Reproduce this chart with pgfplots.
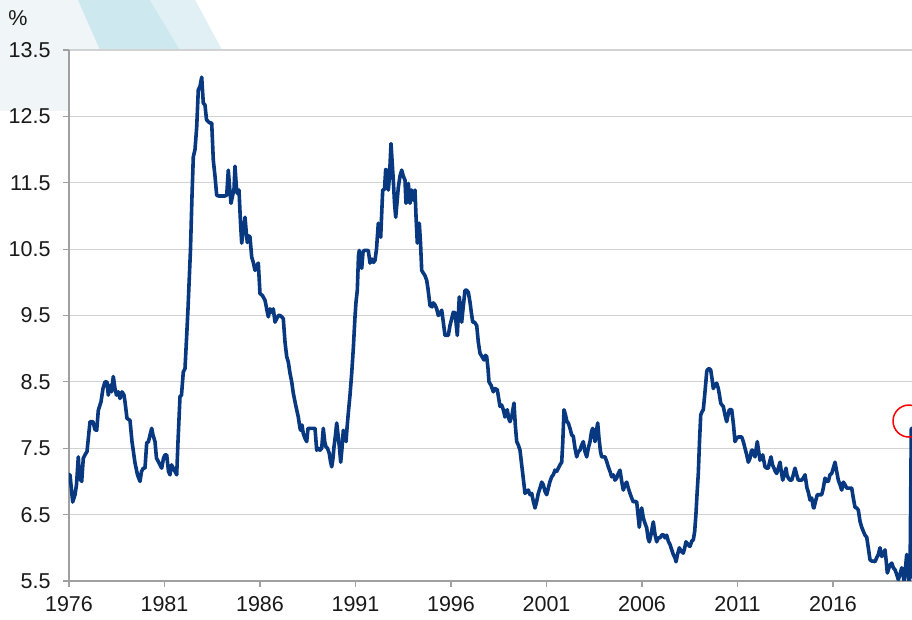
\documentclass[border=0pt]{standalone}
\usepackage{pgfplots}
\pgfplotsset{compat=1.18}
\usepackage{pgfplotstable}
\usepackage{fontspec}
\setmainfont{Liberation Sans}
\definecolor{navy}{RGB}{8,56,128}
\definecolor{gridgray}{RGB}{210,210,210}
\definecolor{axgray}{RGB}{160,160,160}
\definecolor{wm1}{RGB}{240,245,247}
\definecolor{wm2}{RGB}{205,232,238}
\definecolor{wm3}{RGB}{225,240,244}
% px = horizontal position (1976 at 69, 19.1 px per year), v = unemployment rate in %
\pgfplotstableread{
px v
69 7.1
70 7.1
72.7 6.69
75 6.8
76.5 6.95
78.3 7.37
79.5 7.05
81.7 7.0
83.3 7.35
85 7.4
87 7.45
90 7.9
93 7.9
95 7.78
96.7 7.77
98.3 8.07
101 8.2
103 8.4
105 8.5
107 8.5
108.3 8.3
110 8.45
111.5 8.35
113.3 8.58
115 8.4
116.5 8.3
118.3 8.35
120 8.25
122 8.35
124 8.3
125 8.2
127 7.95
130 7.92
132 7.6
135 7.28
137.5 7.1
140 7.0
141.5 7.15
143.3 7.2
145 7.2
146.7 7.58
148.5 7.6
150 7.7
151.7 7.8
153 7.7
155 7.6
156.5 7.35
158.3 7.3
160 7.25
161.7 7.2
163.5 7.35
165 7.4
166.7 7.4
168.5 7.15
170 7.1
171.5 7.25
173.3 7.2
175 7.15
176.7 7.1
178 7.6
180 8.28
181.5 8.3
183.3 8.65
185 8.7
186.7 9.2
188 9.6
190.5 10.5
192 11.3
193.3 11.89
195 12.0
196.7 12.34
198.3 12.9
200 12.95
201.7 13.09
203.3 12.7
205 12.67
206.5 12.45
208.3 12.42
210 12.4
211.7 12.4
213.3 11.84
215 11.6
216.7 11.31
219 11.3
222 11.3
224.5 11.3
226.7 11.31
228.3 11.69
229.5 11.45
231 11.19
232.5 11.3
234 11.4
235 11.75
236.3 11.45
237.3 11.34
239 11.39
240.5 10.9
241.7 10.59
243.3 10.8
245 10.98
246.3 10.75
247.3 10.6
249 10.7
250 10.68
251.7 10.38
253.3 10.3
255 10.18
256.7 10.25
258.3 10.29
259 10.1
260 9.83
262.5 9.8
265 9.73
266.7 9.6
268.3 9.48
270 9.6
271.7 9.55
273.3 9.6
275 9.4
276.7 9.45
278.3 9.5
280 9.5
281.7 9.48
283.3 9.45
285 9.1
286.7 8.88
288.3 8.8
290 8.63
291.7 8.5
293.3 8.33
295 8.2
296.7 8.08
298.3 7.97
300 7.8
300.7 7.77
302 7.85
303.3 7.72
305 7.65
306.7 7.6
308 7.8
310 7.8
312 7.8
313.5 7.8
315 7.8
316.7 7.47
318.3 7.5
320 7.47
321.7 7.5
323.3 7.8
324.7 7.6
326 7.52
327.5 7.5
329.3 7.42
330.5 7.3
331.7 7.22
333 7.35
334 7.52
335.5 7.7
336.7 7.88
338.3 7.67
339.5 7.5
340.7 7.29
342 7.5
343.3 7.77
344.5 7.7
346 7.6
347 7.8
348.3 8.03
350 8.3
351.7 8.63
353.3 9.0
355 9.48
356 9.7
357.3 9.88
358.5 10.4
359.3 10.48
360.5 10.3
361.7 10.21
363 10.45
364 10.48
366 10.48
368.3 10.48
370 10.29
372 10.35
373.5 10.3
375 10.33
376.5 10.5
378.3 10.89
379.5 10.8
380.7 10.68
382.7 11.39
384.5 11.4
385.7 11.7
386.7 11.69
387.5 11.5
388.3 11.39
389.5 11.6
391 12.09
392.2 11.8
393.3 11.54
394.5 11.2
395.7 10.98
397 11.2
398.3 11.43
400 11.6
401.7 11.69
403.3 11.6
405 11.54
406 11.19
407 11.35
408.3 11.49
410 11.19
411.7 11.39
413.3 11.24
415 11.39
416 11.0
417.3 10.59
418.3 10.7
419.3 10.89
420.5 10.6
421.7 10.18
423.3 10.14
425 10.1
426.7 10.03
428 9.9
430 9.65
432 9.63
433.3 9.69
435 9.66
436.7 9.6
438.3 9.5
440 9.53
441.7 9.58
443.3 9.4
445 9.2
446.7 9.2
448.3 9.2
450 9.35
451.7 9.45
453.3 9.55
455 9.54
456 9.4
457.3 9.2
458.3 9.5
459.3 9.78
460.5 9.6
461.7 9.4
463 9.6
465 9.88
466.7 9.88
468.3 9.85
470 9.7
471.3 9.55
472.7 9.4
474.5 9.4
476.7 9.35
478.3 9.1
480 8.93
482 8.88
484 8.83
485.5 8.9
486.7 8.88
488 8.7
489 8.5
491 8.45
493.3 8.35
495 8.4
497.3 8.38
498.7 8.25
500 8.13
501.7 8.15
503.3 8.08
505 7.97
506 8.05
507.3 8.08
508.7 7.95
510 7.9
512 8.0
514 8.18
515.3 7.85
516.7 7.6
518.3 7.55
520 7.47
521.3 7.3
522.7 7.12
524 6.95
525 6.82
526.7 6.85
528.3 6.87
530 6.8
531.7 6.82
533.3 6.7
535 6.6
536.7 6.7
538.3 6.82
540 6.9
541.7 6.99
543.3 6.95
545 6.85
546.7 6.8
548.3 6.9
550 7.0
551.7 7.07
553.3 7.1
555 7.17
556.7 7.15
558.3 7.2
560 7.25
561.7 7.29
562.8 7.6
564 8.08
565.5 8.0
567 7.9
568.3 7.88
570 7.8
571.7 7.7
573.3 7.68
575 7.5
576.7 7.37
578.3 7.45
580 7.47
581.7 7.55
583.3 7.6
585 7.45
586.7 7.37
588.3 7.5
590 7.6
591.5 7.75
592.7 7.8
594 7.7
595 7.6
596.3 7.75
597.7 7.88
599 7.65
600.5 7.45
601.7 7.37
603.3 7.37
605 7.37
606.7 7.3
608.3 7.22
610 7.15
611.7 7.07
613.3 7.1
615 7.02
616.7 7.05
618.3 7.12
620 7.17
621.7 7.0
623.3 6.87
625 6.95
626.7 6.99
628.3 6.9
630 6.82
631.7 6.75
633.3 6.69
635 6.7
636.7 6.69
638 6.5
639.3 6.31
640.5 6.5
641.7 6.6
643.3 6.45
645 6.37
646.7 6.3
648 6.15
649.3 6.09
651 6.2
653.3 6.39
655 6.2
656.7 6.09
658.3 6.15
660 6.15
661.7 6.19
663.3 6.2
665 6.15
666.7 6.19
668.3 6.1
670 6.05
671.7 5.97
673.3 5.9
675 5.85
676 5.79
677.5 5.9
679.3 6.0
681 5.95
683.3 5.92
684.7 6.0
686 6.09
688 6.05
690 6.02
691.7 6.1
693.3 6.12
694.7 6.25
696 6.52
697 6.8
698.3 7.12
699.5 7.6
700.7 8.0
702 8.05
703.3 8.08
705 8.35
706.7 8.65
707.3 8.68
709 8.7
710.7 8.68
712 8.55
713.3 8.4
715 8.45
716.7 8.48
718.3 8.4
719.5 8.3
720.7 8.18
722 8.15
723.3 8.13
725 8.0
726.7 7.9
728 8.0
729.3 8.08
731.7 8.08
733.5 7.85
735 7.6
736.7 7.65
738.3 7.67
740 7.67
741.7 7.67
743.3 7.6
745 7.5
746.7 7.4
748.3 7.29
750 7.35
751.5 7.47
752.7 7.47
754 7.4
755 7.37
756.2 7.5
757.3 7.6
758.7 7.45
760 7.32
761.3 7.35
762.7 7.4
764 7.3
765 7.22
766.7 7.2
768.3 7.2
769.7 7.3
771 7.37
772.5 7.25
774 7.2
775.3 7.15
776.7 7.12
778.3 7.2
780 7.29
781.3 7.15
782.7 7.02
784.3 7.1
786 7.2
787 7.1
788.3 7.05
790 7.02
791.7 7.02
793.3 7.1
795 7.2
796.7 7.1
798.3 7.02
800 7.02
801.7 7.02
803.3 7.05
805 7.1
807 6.9
808.3 6.84
810 6.72
811.7 6.75
813.3 6.61
814 6.6
815.5 6.7
817.3 6.8
819.5 6.8
821.7 6.8
823.3 6.9
825 7.05
826.7 7.0
828.3 7.0
830 7.1
831.7 7.12
833.3 7.2
835 7.29
836.7 7.15
838.3 7.02
840 6.95
841.7 6.87
843.3 6.99
845 6.95
846.7 6.9
848.3 6.9
850 6.9
851.7 6.9
853.3 6.75
855 6.61
856.7 6.6
858.3 6.57
860 6.4
861.7 6.31
863.3 6.25
865 6.19
866.7 6.16
868.3 6.0
870 5.82
871.7 5.8
873.3 5.8
875 5.79
876.7 5.85
878.3 5.9
880 6.0
881.7 5.87
883.3 5.9
885 5.97
886.2 5.8
887.3 5.62
889 5.7
890.5 5.75
891.7 5.77
893.3 5.7
895 5.67
896.7 5.6
898.3 5.52
900 5.6
901.7 5.7
903 5.6
904 5.5
905.5 5.7
906.7 5.9
907.7 5.7
908.7 5.5
910 5.55
911.3 7.8
}\unemp
\begin{document}
\begin{tikzpicture}[x=1pt,y=1pt]
\useasboundingbox (-69,-39) rectangle (843,581);
% faint watermark in the top-left corner
\fill[wm1] (-69,581) -- (126,581) -- (153,531) -- (0,531) -- (0,470) -- (-69,470) -- cycle;
\fill[wm2] (9,581) -- (81,581) -- (111,531) -- (31,531) -- cycle;
\fill[wm3] (81,581) -- (126,581) -- (153,531) -- (111,531) -- cycle;
\begin{axis}[
  at={(0,0)}, anchor=south west,
  scale only axis, width=843pt, height=531pt,
  xmin=1976, xmax=2020.136,
  ymin=5.5, ymax=13.5,
  axis x line=bottom, axis y line=left,
  axis line style={axgray, line width=1.2pt, -},
  xtick={1976,1981,1986,1991,1996,2001,2006,2011,2016},
  ytick={5.5,6.5,7.5,8.5,9.5,10.5,11.5,12.5,13.5},
  ymajorgrids, major grid style={gridgray, line width=1.2pt},
  tick style={axgray, line width=1.2pt},
  tick align=outside, major tick length=6pt,
  xtick pos=bottom, ytick pos=left,
  x tick label style={/pgf/number format/1000 sep={}, yshift=-6pt},
  y tick label style={/pgf/number format/fixed, /pgf/number format/fixed zerofill, /pgf/number format/precision=1, xshift=-9pt},
  /pgf/number format/assume math mode=true,
  tick label style={font=\fontsize{21.5}{21.5}\selectfont, text=black!90},
  axis background/.style={fill=white},
  clip mode=individual,
]
\addplot[navy, line width=3.6pt, line join=round, line cap=round]
  table[x expr={1976+(\thisrow{px}-69)/19.1}, y=v] {\unemp};
\addplot[only marks, mark=o, mark size=16pt, red, mark options={line width=1.5pt}]
  coordinates {(2019.98,7.91)};
\node[anchor=center, font=\fontsize{21.5}{21.5}\selectfont, text=black!90] at (axis description cs:-0.0605,1.060) {\%};
\end{axis}
\end{tikzpicture}
\end{document}
